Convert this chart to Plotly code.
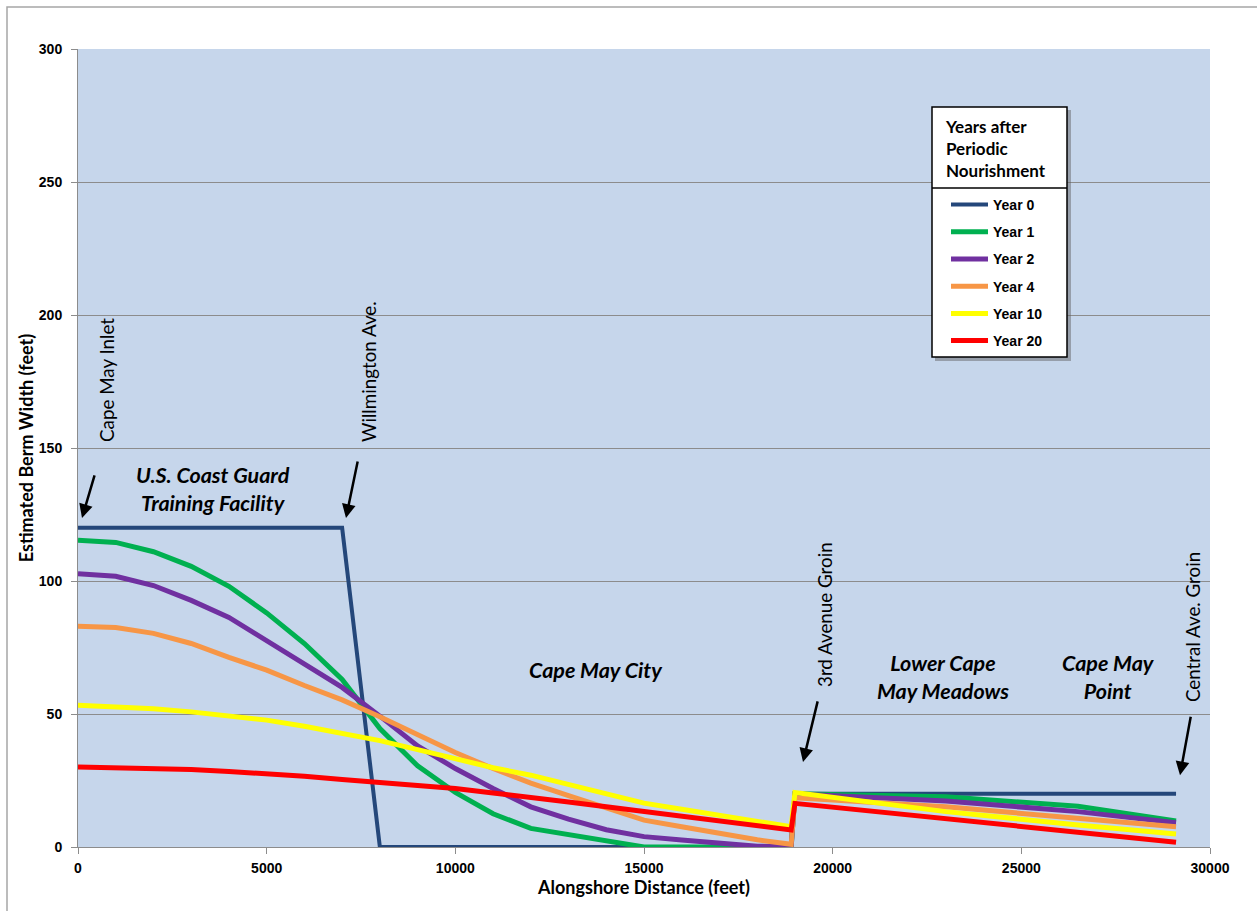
import plotly.graph_objects as go

# Alongshore stations (feet) shared by the decaying profiles
distance_ft = [0, 1000, 2000, 3000, 4000, 5000, 6000, 7000, 8000, 9000, 10000,
               11000, 12000, 13000, 14000, 15000, 16000, 17000, 18000, 18900,
               19000, 23000, 26500, 29100]

# Year 0 template (as built)
year0_x = [0, 7000, 8000, 18900, 19000, 29100]
year0_w = [120, 120, 0, 0, 20, 20]

year1_w = [115.3, 114.5, 111, 105.5, 98, 88, 76.5, 63, 44.5, 30.5, 20.5,
           12.5, 7, 4.7, 2.3, 0, 0, 0, 0, 0,
           20, 18.9, 15.3, 9.8]
year2_w = [102.7, 101.8, 98.3, 92.7, 86.3, 77.7, 69, 60, 49.2, 38, 29.5,
           22, 15.1, 10.5, 6.5, 3.9, 2.6, 1.3, 0.3, 0,
           20, 17.3, 13.3, 9.1]
year4_w = [83, 82.5, 80.3, 76.5, 71.3, 66.5, 60.7, 55.3, 49, 42, 35.5,
           29.5, 24, 19.3, 14.5, 10.1, 7.6, 5, 2.7, 1,
           18.5, 15.1, 10.8, 7.6]
year10_w = [53.3, 52.8, 52, 50.8, 49.2, 47.7, 45.4, 42.8, 40, 36.6, 33,
            29.8, 27, 23.5, 20, 16.5, 14.2, 11.9, 9.6, 7.6,
            20.5, 13.3, 8.3, 4.9]
year20_w = [30.1, 29.8, 29.5, 29.1, 28.4, 27.6, 26.6, 25.4, 24.4, 23.2, 22,
            20.3, 18.8, 16.9, 15.1, 13.3, 11.3, 9.8, 8, 6.4,
            16.4, 10.8, 5.8, 1.8]

series_names = ["Year 0", "Year 1", "Year 2", "Year 4", "Year 10", "Year 20"]
series_colors = ["#24477A", "#00B050", "#7030A0", "#F79646", "#FFFF00", "#FF0000"]

x_ticks = [0, 5000, 10000, 15000, 20000, 25000, 30000]
x_tick_text = ["0", "5000", "10000", "15000", "20000", "25000", "30000"]
y_ticks = [0, 50, 100, 150, 200, 250, 300]
y_tick_text = ["0", "50", "100", "150", "200", "250", "300"]

# Plot-area geometry in pixels
W, H = 1257, 911
L, R, T, B = 78, 47, 49, 64
PW, PH = W - L - R, H - T - B


def px_x(p):
    return (p - L) / PW


def px_y(p):
    return (H - B - p) / PH


ARIAL = "Liberation Sans, Arial, sans-serif"
CAL = "Lato, Carlito, Calibri, sans-serif"

fig = go.Figure()

fig.add_trace(go.Scatter(x=year0_x, y=year0_w, mode="lines", name=series_names[0],
                         legendgroup="g0",
                         line=dict(color=series_colors[0], width=4)))
profiles = [year1_w, year2_w, year4_w, year10_w, year20_w]
for i, w in enumerate(profiles, start=1):
    fig.add_trace(go.Scatter(x=distance_ft, y=w, mode="lines", name=series_names[i],
                             legendgroup=f"g{i}",
                             line=dict(color=series_colors[i], width=5)))

shapes = [
    # outer chart frame
    dict(type="rect", xref="paper", yref="paper",
         x0=px_x(7), x1=px_x(1270), y0=px_y(920), y1=px_y(7),
         line=dict(color="#A6A6A6", width=1.5), fillcolor="rgba(0,0,0,0)", layer="below"),
    # legend shadow, box and title divider
    dict(type="rect", xref="paper", yref="paper",
         x0=px_x(935), x1=px_x(1071), y0=px_y(361), y1=px_y(110),
         line=dict(width=0), fillcolor="rgba(90,90,90,0.45)"),
    dict(type="rect", xref="paper", yref="paper",
         x0=px_x(932), x1=px_x(1067), y0=px_y(357), y1=px_y(107),
         line=dict(color="black", width=1.5), fillcolor="white"),
    dict(type="line", xref="paper", yref="paper",
         x0=px_x(932), x1=px_x(1067), y0=px_y(188), y1=px_y(188),
         line=dict(color="black", width=1.5)),
]

annotations = [
    # legend heading
    dict(text="Years after<br>Periodic<br>Nourishment", xref="paper", yref="paper",
         x=px_x(943), y=px_y(114), xanchor="left", yanchor="top", align="left",
         showarrow=False,
         font=dict(family=CAL, size=17, color="black", weight="bold")),
]

# Rotated location labels
for text, cx, cy in [("Cape May Inlet", 106, 380),
                     ("Willmington Ave.", 368, 372),
                     ("3rd Avenue Groin", 824, 615),
                     ("Central Ave. Groin", 1192, 627)]:
    annotations.append(dict(text=text, xref="paper", yref="paper",
                            x=px_x(cx), y=px_y(cy), xanchor="center", yanchor="middle",
                            textangle=-90, showarrow=False,
                            font=dict(family=CAL, size=18.8, color="black")))

# Pointer arrows (head at data coordinates, tail offset in pixels)
for hx, hy, ax, ay in [(106, 123.7, 13, -44),
                       (7102, 123.7, 12, -58),
                       (19214, 32, 15, -62),
                       (29205, 27, 11, -60)]:
    annotations.append(dict(x=hx, y=hy, xref="x", yref="y", text="", showarrow=True,
                            ax=ax, ay=ay, arrowhead=2, arrowsize=1.1, arrowwidth=2.5,
                            arrowcolor="black"))

# Reach names
for text, cx, cy in [("U.S. Coast Guard<br>Training Facility", 213, 489),
                     ("Cape May City", 596, 670),
                     ("Lower Cape<br>May Meadows", 943, 677),
                     ("Cape May<br>Point", 1108, 677)]:
    annotations.append(dict(text=text, xref="paper", yref="paper",
                            x=px_x(cx), y=px_y(cy), xanchor="center", yanchor="middle",
                            showarrow=False, align="center",
                            font=dict(family=CAL, size=21.5, color="black",
                                      weight="bold", style="italic")))

fig.update_layout(
    width=W, height=H,
    margin=dict(l=L, r=R, t=T, b=B, pad=0),
    paper_bgcolor="white",
    plot_bgcolor="#C6D6EB",
    showlegend=True,
    legend=dict(
        x=px_x(946), y=px_y(189), xanchor="left", yanchor="top",
        bgcolor="rgba(0,0,0,0)", borderwidth=0,
        font=dict(family=ARIAL, size=14, color="black", weight="bold"),
        tracegroupgap=6,
        itemwidth=37,
    ),
    xaxis=dict(
        range=[0, 30000], tickvals=x_ticks, ticktext=x_tick_text,
        showgrid=False, zeroline=False,
        showline=True, linecolor="#8C8C8C", linewidth=1,
        ticks="outside", ticklen=6, tickcolor="#8C8C8C",
        tickfont=dict(family=ARIAL, size=14, color="black", weight="bold"),
        ticklabelstandoff=2,
        title=dict(text="Alongshore Distance (feet)", standoff=6,
                   font=dict(family=CAL, size=18, color="black", weight="bold")),
    ),
    yaxis=dict(
        range=[0, 300], tickvals=y_ticks, ticktext=y_tick_text,
        showgrid=True, gridcolor="#8C8C8C", gridwidth=1, zeroline=False,
        showline=True, linecolor="#8C8C8C", linewidth=1,
        ticks="outside", ticklen=6, tickcolor="#8C8C8C",
        tickfont=dict(family=ARIAL, size=14, color="black", weight="bold"),
        ticklabelstandoff=6,
        title=dict(text="Estimated Berm Width (feet)", standoff=0,
                   font=dict(family=CAL, size=18, color="black", weight="bold")),
    ),
    shapes=shapes,
    annotations=annotations,
)

fig.write_html("out.html")
